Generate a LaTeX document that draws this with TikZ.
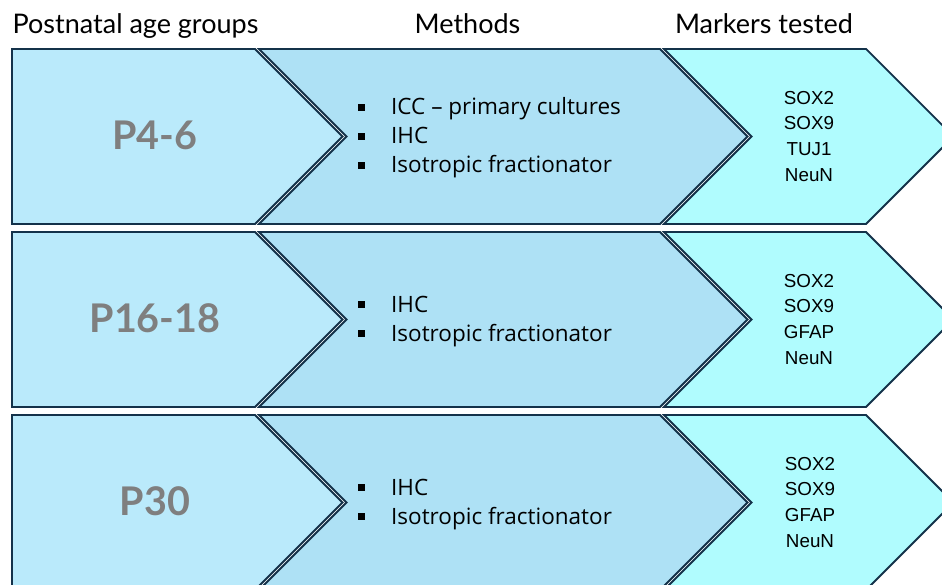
\documentclass[tikz,border=0pt]{standalone}
\usepackage{fontspec}
\setmainfont{Lato}
\newfontfamily\markfont{Liberation Sans}
\newfontfamily\methfont{Open Sans}
\definecolor{ageFill}{HTML}{BAEAFB}
\definecolor{methFill}{HTML}{AEE1F5}
\definecolor{markFill}{HTML}{B0FCFE}
\definecolor{edgeCol}{HTML}{14324A}
\definecolor{ageText}{HTML}{7F7F7F}
\tikzset{
  agebox/.style={fill=ageFill,draw=edgeCol,line width=1.8pt,line join=miter},
  methbox/.style={fill=methFill,draw=edgeCol,line width=1.8pt,line join=miter},
  markbox/.style={fill=markFill,draw=edgeCol,line width=1.8pt,line join=miter},
  headtext/.style={anchor=base,inner sep=0pt,font=\fontsize{27}{30}\selectfont,text=black},
  agetext/.style={anchor=base,inner sep=0pt,font=\fontsize{39.5}{44}\selectfont\bfseries,text=ageText},
  methtext/.style={anchor=base west,inner sep=0pt,font=\methfont\fontsize{22.5}{26}\selectfont,text=black},
  bulletsq/.style={fill=black,draw=none,minimum size=7pt,inner sep=0pt},
  marktext/.style={anchor=base,inner sep=0pt,font=\markfont\fontsize{18.8}{22}\selectfont,text=black},
}
\begin{document}
\begin{tikzpicture}[x=1pt,y=1pt]
\useasboundingbox (0,0) rectangle (942,585);
\fill[white] (0,0) rectangle (942,585);
\clip (0,0) rectangle (942,585);
\foreach \t in {49,232,415} {
  \pgfmathsetmacro\T{585-\t}
  \pgfmathsetmacro\B{\T-175}
  \pgfmathsetmacro\M{\T-87.5}
  \path[agebox] (12,\T) -- (255,\T) -- (342.5,\M) -- (255,\B) -- (12,\B) -- cycle;
  \path[methbox] (259,\T) -- (660,\T) -- (747.5,\M) -- (660,\B) -- (259,\B) -- (346.5,\M) -- cycle;
  \path[markbox] (664,\T) -- (866,\T) -- (953.5,\M) -- (866,\B) -- (664,\B) -- (751.5,\M) -- cycle;
}
% headers
\node[headtext] (h1) at (135.5,551) {Postnatal age groups};
\node[headtext] (h2) at (467.5,551) {Methods};
\node[headtext] (h3) at (764,551) {Markers tested};
% age labels
\node[agetext] (a1) at (155,435) {P4-6};
\node[agetext] (a2) at (155,252) {P16-18};
\node[agetext] (a3) at (155,69) {P30};
% methods row 1
\node[bulletsq] (b11) at (361.5,477.5) {};
\node[methtext] (m11) at (391,470) {ICC – primary cultures};
\node[bulletsq] (b12) at (361.5,448.5) {};
\node[methtext] (m12) at (391,441) {IHC};
\node[bulletsq] (b13) at (361.5,419.5) {};
\node[methtext] (m13) at (391,412) {Isotropic fractionator};
% methods row 2
\node[bulletsq] (b21) at (361.5,280) {};
\node[methtext] (m21) at (391,272.5) {IHC};
\node[bulletsq] (b22) at (361.5,251) {};
\node[methtext] (m22) at (391,243.5) {Isotropic fractionator};
% methods row 3
\node[bulletsq] (b31) at (361.5,97) {};
\node[methtext] (m31) at (391,89.5) {IHC};
\node[bulletsq] (b32) at (361.5,68) {};
\node[methtext] (m32) at (391,60.5) {Isotropic fractionator};
% markers row 1
\node[marktext] (k11) at (809,480) {SOX2};
\node[marktext] (k12) at (809,455) {SOX9};
\node[marktext] (k13) at (809,429) {TUJ1};
\node[marktext] (k14) at (809,403.3) {NeuN};
% markers row 2
\node[marktext] (k21) at (809,297) {SOX2};
\node[marktext] (k22) at (809,272) {SOX9};
\node[marktext] (k23) at (809,246) {GFAP};
\node[marktext] (k24) at (809,220.3) {NeuN};
% markers row 3
\node[marktext] (k31) at (810,114) {SOX2};
\node[marktext] (k32) at (810,89) {SOX9};
\node[marktext] (k33) at (810,63) {GFAP};
\node[marktext] (k34) at (810,37.3) {NeuN};
\end{tikzpicture}
\end{document}
